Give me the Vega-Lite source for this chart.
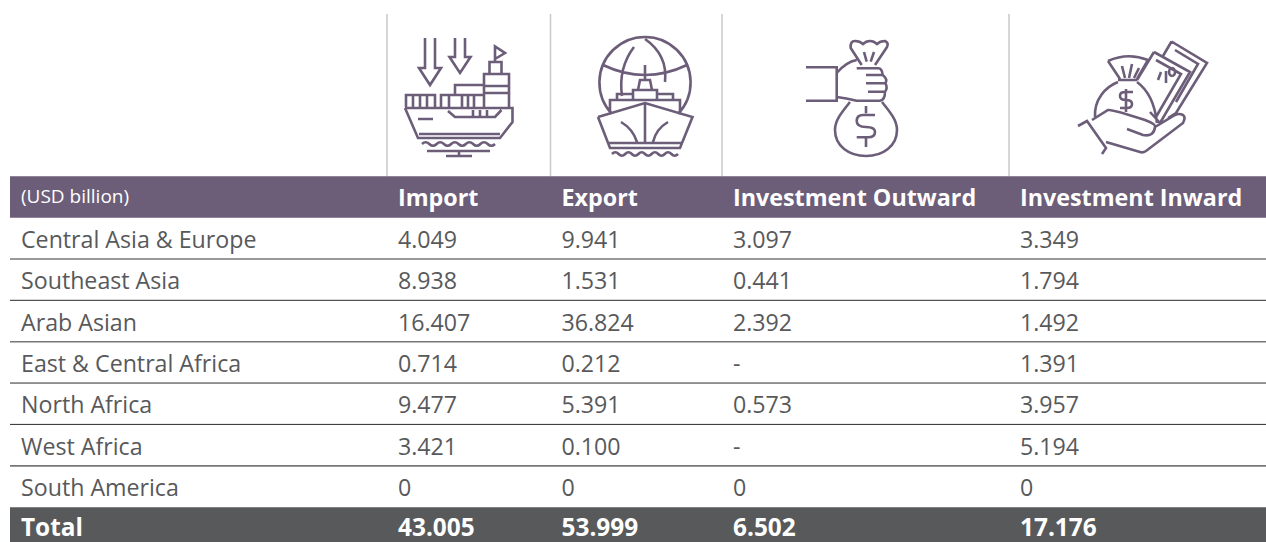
{
"$schema":"https://vega.github.io/schema/vega-lite/v6.json",
"width":1266,"height":542,"padding":0,"autosize":{"type":"none"},
"background":"#ffffff",
"config":{"view":{"stroke":null},"text":{"font":"Open Sans"}},
"datasets":{
"columns":[{"measure":"Import","column":1},{"measure":"Export","column":2},{"measure":"Investment Outward","column":3},{"measure":"Investment Inward","column":4}],
"regions":[{"region":"Central Asia & Europe","row":1},{"region":"Southeast Asia","row":2},{"region":"Arab Asian","row":3},{"region":"East & Central Africa","row":4},{"region":"North Africa","row":5},{"region":"West Africa","row":6},{"region":"South America","row":7}],
"cells":[
{"region":"Central Asia & Europe","row":1,"measure":"Import","column":1,"value":"4.049"},{"region":"Central Asia & Europe","row":1,"measure":"Export","column":2,"value":"9.941"},{"region":"Central Asia & Europe","row":1,"measure":"Investment Outward","column":3,"value":"3.097"},{"region":"Central Asia & Europe","row":1,"measure":"Investment Inward","column":4,"value":"3.349"},
{"region":"Southeast Asia","row":2,"measure":"Import","column":1,"value":"8.938"},{"region":"Southeast Asia","row":2,"measure":"Export","column":2,"value":"1.531"},{"region":"Southeast Asia","row":2,"measure":"Investment Outward","column":3,"value":"0.441"},{"region":"Southeast Asia","row":2,"measure":"Investment Inward","column":4,"value":"1.794"},
{"region":"Arab Asian","row":3,"measure":"Import","column":1,"value":"16.407"},{"region":"Arab Asian","row":3,"measure":"Export","column":2,"value":"36.824"},{"region":"Arab Asian","row":3,"measure":"Investment Outward","column":3,"value":"2.392"},{"region":"Arab Asian","row":3,"measure":"Investment Inward","column":4,"value":"1.492"},
{"region":"East & Central Africa","row":4,"measure":"Import","column":1,"value":"0.714"},{"region":"East & Central Africa","row":4,"measure":"Export","column":2,"value":"0.212"},{"region":"East & Central Africa","row":4,"measure":"Investment Outward","column":3,"value":"-"},{"region":"East & Central Africa","row":4,"measure":"Investment Inward","column":4,"value":"1.391"},
{"region":"North Africa","row":5,"measure":"Import","column":1,"value":"9.477"},{"region":"North Africa","row":5,"measure":"Export","column":2,"value":"5.391"},{"region":"North Africa","row":5,"measure":"Investment Outward","column":3,"value":"0.573"},{"region":"North Africa","row":5,"measure":"Investment Inward","column":4,"value":"3.957"},
{"region":"West Africa","row":6,"measure":"Import","column":1,"value":"3.421"},{"region":"West Africa","row":6,"measure":"Export","column":2,"value":"0.100"},{"region":"West Africa","row":6,"measure":"Investment Outward","column":3,"value":"-"},{"region":"West Africa","row":6,"measure":"Investment Inward","column":4,"value":"5.194"},
{"region":"South America","row":7,"measure":"Import","column":1,"value":"0"},{"region":"South America","row":7,"measure":"Export","column":2,"value":"0"},{"region":"South America","row":7,"measure":"Investment Outward","column":3,"value":"0"},{"region":"South America","row":7,"measure":"Investment Inward","column":4,"value":"0"}
],
"totals":[{"label":"Total","row":8,"column":0},{"label":"43.005","row":8,"column":1},{"label":"53.999","row":8,"column":2},{"label":"6.502","row":8,"column":3},{"label":"17.176","row":8,"column":4}],
"bands":[{"band":"header","row":0,"fill":"header"},{"band":"total","row":8,"fill":"total"}]
},
"layer":[
{"data":{"name":"columns"},"mark":{"type":"rule","color":"#c9cac5","strokeWidth":1.5},
 "encoding":{"x":{"field":"column","type":"quantitative","scale":{"domain":[0,1,2,3,4,5],"range":[10,387,550.5,722,1009,1266]},"axis":null},
 "y":{"datum":-1,"type":"quantitative","scale":{"domain":[-1,-0.5,8],"range":[14,176.3,527.9]},"axis":null},"y2":{"datum":-0.5}}},
{"data":{"name":"bands"},"mark":{"type":"rule","strokeWidth":41.4},
 "encoding":{"x":{"datum":0,"type":"quantitative"},"x2":{"datum":5},"y":{"field":"row","type":"quantitative"},
 "color":{"field":"fill","type":"nominal","scale":{"domain":["header","total"],"range":["#6c5d78","#58595b"]},"legend":null}}},
{"data":{"name":"regions"},"mark":{"type":"rule","color":"#2a2a2a","strokeWidth":1,"yOffset":20.6},
 "transform":[{"filter":"datum.row==2||datum.row==4||datum.row==5"}],
 "encoding":{"x":{"datum":0,"type":"quantitative"},"x2":{"datum":5},"y":{"field":"row","type":"quantitative"}}},
{"data":{"name":"regions"},"mark":{"type":"rule","color":"#777777","strokeWidth":1.6,"yOffset":20.7},
 "transform":[{"filter":"datum.row==1||datum.row==3||datum.row==6"}],
 "encoding":{"x":{"datum":0,"type":"quantitative"},"x2":{"datum":5},"y":{"field":"row","type":"quantitative"}}},
{"data":{"values":[{"label":"(USD billion)","row":0,"column":0}]},"mark":{"type":"text","align":"left","baseline":"middle","dx":11,"fontSize":19,"color":"#ffffff"},
 "encoding":{"x":{"field":"column","type":"quantitative"},"y":{"field":"row","type":"quantitative"},"text":{"field":"label"}}},
{"data":{"name":"columns"},"mark":{"type":"text","align":"left","baseline":"middle","dx":11,"dy":2.5,"fontSize":23.3,"fontWeight":"bold","color":"#ffffff"},
 "transform":[{"calculate":"0","as":"row"}],
 "encoding":{"x":{"field":"column","type":"quantitative"},"y":{"field":"row","type":"quantitative"},"text":{"field":"measure"}}},
{"data":{"name":"regions"},"mark":{"type":"text","align":"left","baseline":"middle","dx":11,"dy":2.5,"fontSize":23.2,"color":"#58595b"},
 "encoding":{"x":{"datum":0,"type":"quantitative"},"y":{"field":"row","type":"quantitative"},"text":{"field":"region"}}},
{"data":{"name":"cells"},"mark":{"type":"text","align":"left","baseline":"middle","dx":11,"dy":2.5,"fontSize":23.2,"color":"#58595b"},
 "encoding":{"x":{"field":"column","type":"quantitative"},"y":{"field":"row","type":"quantitative"},"text":{"field":"value"}}},
{"data":{"name":"totals"},"mark":{"type":"text","align":"left","baseline":"middle","dx":11,"dy":1.5,"fontSize":24.4,"fontWeight":"bold","color":"#ffffff"},
 "encoding":{"x":{"field":"column","type":"quantitative"},"y":{"field":"row","type":"quantitative"},"text":{"field":"label"}}},
{"data":{"values":[{"icon":"import ship"}]},
 "mark":{"type":"point","filled":false,"size":4,"opacity":1,"stroke":"#6c5d78","strokeWidth":2.6,"xOffset":-10,"yOffset":-14,
 "shape":"M425 38V68H419L430 85L441 68H435V38M455 38V57H449.5L460 73L470.5 57H465V38M495 62V46.5L505 53L495 59M489.5 74V62H501.5V74M484 107V74H509V107M484 86H509M484 93H509M406 107V95H435V107M413 95V107M420 95V107M427 95V107M441 107V95H484M449 95V107M462 95V107M468 95V107M474 95V107M455 95V85H484M405 108H512.5V122L500 138H418L405 108M448 111L455 117H495L501.5 110M473 110V117M480 110V117M487 110V117M418 119H433M419 134H500M422 144q3.6 -3.5 7.3 0t7.3 0t7.3 0t7.3 0t7.3 0t7.3 0t7.3 0t7.3 0t7.3 0t7.3 0M427 151H490M446 156H472M459 151V156"},
 "encoding":{"x":{"datum":0,"type":"quantitative"},"y":{"datum":-1,"type":"quantitative"}}},
{"data":{"values":[{"icon":"export ship and globe"}]},
 "mark":{"type":"point","filled":false,"size":4,"opacity":1,"stroke":"#6c5d78","strokeWidth":2.6,"xOffset":-10,"yOffset":-14,
 "shape":"M612 114A45.6 45.6 0 1 1 678 114M634 47Q618 68 622 96M645 39Q668 55 665 82M603 65Q645 85 687 65M645 65V80M638 90L640 80H650L652 90M633 100V90H657V100M617 100V94H633M657 94H673V100M610 112V100H680V112M598 117L645 103L692.5 117L680 148H610L598 117M645 103V143M621 122Q633 129 637 142M668 122Q656 129 653 142M608 143H682M612 154q3.3 -3.5 6.6 0t6.6 0t6.6 0t6.6 0t6.6 0t6.6 0t6.6 0t6.6 0t6.6 0t6.6 0"},
 "encoding":{"x":{"datum":0,"type":"quantitative"},"y":{"datum":-1,"type":"quantitative"}}},
{"data":{"values":[{"icon":"hand with money bag"}]},
 "mark":{"type":"point","filled":false,"size":4,"opacity":1,"stroke":"#6c5d78","strokeWidth":2.6,"xOffset":-10,"yOffset":-14,
 "shape":"M806 67.3H836.7V100.7H806M861.7 65L850.7 48Q850 41 855 41Q860 41 863 44Q866 41 870 41Q874 41 877 44Q880 41 885 41Q889 43 887 47L875 65M864 52L866.7 61.7M874 52L870.7 61.7M836.7 73Q846 62 856.7 60M856.7 68.3H878Q882 68 882.7 75Q888 79 885.5 83.3Q888 88 885 91.7Q885 100 880 100.7H856.7Q846 98 836.7 97M866 75H882.7M866 83.3H885.5M868 91.7H885M850 102C842 112 835 120 835 130C835 146 849 156 866 156C883 156 897 146 897 130C897 120 890 112 882 102M866 106V113.3M866 138V147M875 115H863Q856.7 115 856.7 121Q856.7 127 866 127Q875 127 875 132Q875 137.3 868 137.3H856.7"},
 "encoding":{"x":{"datum":0,"type":"quantitative"},"y":{"datum":-1,"type":"quantitative"}}},
{"data":{"values":[{"icon":"hand with bag and banknotes"}]},
 "mark":{"type":"point","filled":false,"size":4,"opacity":1,"stroke":"#6c5d78","strokeWidth":2.6,"xOffset":-10,"yOffset":-14,
 "shape":"M1078 126L1087 121L1106 148L1102 154M1092 120L1108 110Q1112 109 1145 120Q1156 124 1155 127Q1154 137 1143 135L1127 129M1106 142L1140 152Q1143 153 1146 151L1183 123Q1186 117 1183 115Q1179 113 1175 115L1155 127M1095 117C1094 100 1105 87 1118 82M1137 82C1148 90 1155 105 1157 123M1118 80H1137M1108 61Q1128 52 1148 60M1108 61L1120 79M1137 79L1148 60M1122 66L1125 78M1132 64L1129 78M1139 68L1134 78M1126 89V112M1133 92H1125Q1120 92 1120 96Q1120 100 1126 100Q1132 100 1132 104Q1132 108 1127 108H1120M1154 52L1190 72L1160 123M1154 52L1137 80M1156 60L1181 74L1156 117M1171.5 41.5L1207 63L1176 113L1168 118M1171.5 41.5L1163 56M1175 50L1198 64L1176 102M1161 72L1158 80M1166 71V83M1172 76A3 4 0 1 1 1172.1 76M1150 112L1160 123"},
 "encoding":{"x":{"datum":0,"type":"quantitative"},"y":{"datum":-1,"type":"quantitative"}}}
]
}
